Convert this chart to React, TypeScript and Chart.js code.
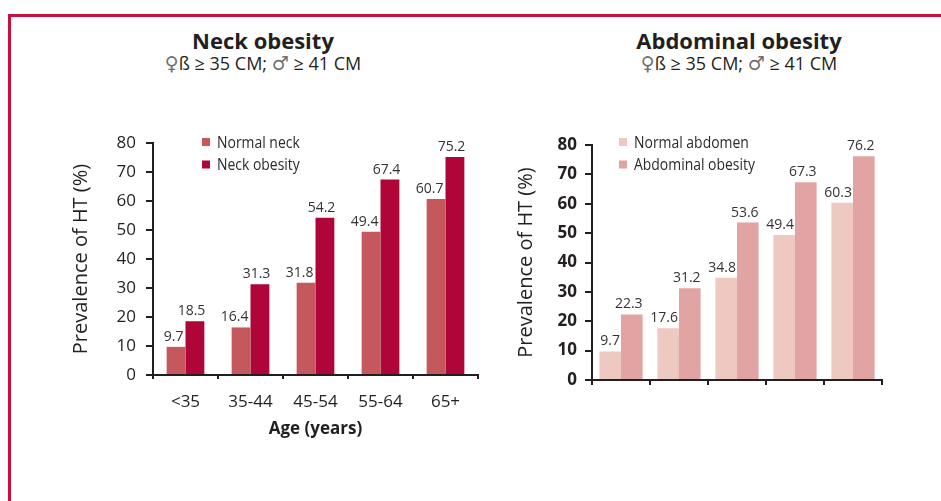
import React, { useEffect, useRef } from "react";
import { Chart, registerables } from "chart.js";

Chart.register(...registerables);

const ageGroups = ["<35", "35-44", "45-54", "55-64", "65+"];
const neckNormal = [9.7, 16.4, 31.8, 49.4, 60.7];
const neckObese = [18.5, 31.3, 54.2, 67.4, 75.2];
const abdNormal = [9.7, 17.6, 34.8, 49.4, 60.3];
const abdObese = [22.3, 31.2, 53.6, 67.3, 76.2];

const FONT = "'Open Sans', 'Noto Sans', sans-serif";
const DARK = "#231F20";

const labelsPlugin = {
  id: "valueLabels",
  afterDatasetsDraw(chart: any) {
    const ctx = chart.ctx;
    const shifts = chart.options.plugins.insideLegend.labelShift;
    ctx.save();
    ctx.font = `14px ${FONT}`;
    ctx.fillStyle = "#333333";
    ctx.textAlign = "right";
    ctx.textBaseline = "bottom";
    chart.data.datasets.forEach((ds: any, i: number) => {
      const meta = chart.getDatasetMeta(i);
      meta.data.forEach((el: any, j: number) => {
        const right = el.x + el.width / 2 + shifts[i];
        ctx.fillText(ds.data[j].toFixed(1), right, el.y - 3);
      });
    });
    ctx.restore();
  },
};

const legendPlugin = {
  id: "insideLegend",
  afterDraw(chart: any) {
    const opts = chart.options.plugins.insideLegend;
    if (!opts) return;
    const ctx = chart.ctx;
    const area = chart.chartArea;
    ctx.save();
    chart.data.datasets.forEach((ds: any, i: number) => {
      const y = opts.y + i * opts.gap;
      const x = area.left + opts.dx;
      ctx.fillStyle = ds.backgroundColor;
      ctx.fillRect(x, y - 4, 8, 8);
      ctx.save();
      ctx.translate(x + 15, y);
      ctx.scale(0.82, 1);
      ctx.font = `17px ${FONT}`;
      ctx.fillStyle = "#2b2b2b";
      ctx.textAlign = "left";
      ctx.textBaseline = "middle";
      ctx.fillText(ds.label, 0, 1);
      ctx.restore();
    });
    ctx.restore();
  },
};

function makeConfig(p: {
  normal: number[];
  obese: number[];
  names: string[];
  colors: string[];
  pad: any;
  yWidth: number;
  xHeight: number;
  yTitlePad: number;
  yTickPad: number;
  boldTicks: boolean;
  showX: boolean;
  catPct: number;
  legendDx: number;
  xTickLen: number;
  labelShift: number[];
}) {
  return {
    type: "bar",
    data: {
      labels: ageGroups,
      datasets: [
        { label: p.names[0], data: p.normal, backgroundColor: p.colors[0] },
        { label: p.names[1], data: p.obese, backgroundColor: p.colors[1] },
      ],
    },
    plugins: [labelsPlugin, legendPlugin],
    options: {
      responsive: false,
      animation: false,
      layout: { padding: p.pad },
      datasets: { bar: { categoryPercentage: p.catPct, barPercentage: 1 } },
      plugins: {
        legend: { display: false },
        tooltip: { enabled: false },
        insideLegend: { dx: p.legendDx, y: 142, gap: 22.5, labelShift: p.labelShift },
      },
      scales: {
        x: {
          grid: {
            display: true,
            drawOnChartArea: false,
            drawTicks: true,
            tickLength: p.xTickLen,
            color: DARK,
            lineWidth: 2,
          },
          border: { display: true, color: DARK, width: 2 },
          ticks: {
            display: p.showX,
            font: { family: FONT, size: 17 },
            color: DARK,
            padding: 13,
            maxRotation: 0,
          },
          title: {
            display: p.showX,
            text: "Age (years)",
            font: { family: FONT, size: 17, weight: "bold" },
            color: DARK,
            padding: { top: 0, bottom: 2 },
          },
          afterFit: (s: any) => {
            s.height = p.xHeight;
          },
        },
        y: {
          min: 0,
          max: 80,
          grid: {
            display: true,
            drawOnChartArea: false,
            drawTicks: true,
            tickLength: 7,
            color: DARK,
            lineWidth: 2,
          },
          border: { display: true, color: DARK, width: 2 },
          ticks: {
            stepSize: 10,
            font: { family: FONT, size: 17, weight: p.boldTicks ? "bold" : "normal" },
            color: DARK,
            padding: p.yTickPad,
          },
          title: {
            display: true,
            text: "Prevalence of HT (%)",
            font: { family: FONT, size: 20 },
            color: DARK,
            padding: { top: p.yTitlePad, bottom: 0 },
          },
          afterFit: (s: any) => {
            s.width = p.yWidth;
          },
        },
      },
    },
  };
}

function BarCanvas(props: { config: any; left: number; width: number }) {
  const ref = useRef<HTMLCanvasElement | null>(null);
  useEffect(() => {
    if (!ref.current) return;
    const chart = new Chart(ref.current, props.config);
    return () => chart.destroy();
  }, []);
  return (
    <canvas
      ref={ref}
      width={props.width}
      height={501}
      style={{ position: "absolute", left: props.left, top: 0, width: props.width, height: 501 }}
    />
  );
}

const symStyle: React.CSSProperties = {
  color: "#6f6f6f",
  fontFamily: "'DejaVu Sans', sans-serif",
  fontSize: 19,
  fontWeight: 400,
};

function Heading(props: { cx: number; title: string }) {
  return (
    <>
      <div
        style={{
          position: "absolute",
          left: props.cx - 200,
          top: 26,
          width: 400,
          textAlign: "center",
          fontFamily: FONT,
          fontWeight: 700,
          fontSize: 22,
          lineHeight: "28px",
          color: DARK,
        }}
      >
        {props.title}
      </div>
      <div
        style={{
          position: "absolute",
          left: props.cx - 200,
          top: 52,
          width: 400,
          textAlign: "center",
          fontFamily: FONT,
          fontSize: 18,
          lineHeight: "22px",
          color: DARK,
          whiteSpace: "nowrap",
        }}
      >
        <span style={symStyle}>♀</span>ß ≥ 35 CM; <span style={symStyle}>♂</span> ≥ 41 CM
      </div>
    </>
  );
}

export default function App() {
  const leftCfg = makeConfig({
    normal: neckNormal,
    obese: neckObese,
    names: ["Normal neck", "Neck obesity"],
    colors: ["#C4585D", "#B00538"],
    pad: { left: 60, top: 143, right: 2, bottom: 60 },
    yWidth: 93,
    xHeight: 66,
    yTitlePad: 9,
    yTickPad: 10,
    boldTicks: false,
    showX: true,
    catPct: 0.58,
    legendDx: 49,
    xTickLen: 4,
    labelShift: [-2, 1],
  });
  const rightCfg = makeConfig({
    normal: abdNormal,
    obese: abdObese,
    names: ["Normal abdomen", "Abdominal obesity"],
    colors: ["#EEC9C1", "#E2A4A2"],
    pad: { left: 20, top: 145, right: 59, bottom: 101 },
    yWidth: 92,
    xHeight: 20,
    yTitlePad: 14,
    yTickPad: 8,
    boldTicks: true,
    showX: false,
    catPct: 0.745,
    legendDx: 27,
    xTickLen: 5,
    labelShift: [-1, 0],
  });
  return (
    <div
      style={{
        position: "fixed",
        left: 0,
        top: 0,
        width: 941,
        height: 501,
        overflow: "hidden",
        background: "#fff",
      }}
    >
      <div
        style={{
          position: "absolute",
          left: 8,
          top: 14,
          width: 1200,
          height: 800,
          borderTop: "3px solid #C8103E",
          borderLeft: "3px solid #C8103E",
        }}
      />
      <Heading cx={263} title="Neck obesity" />
      <Heading cx={739} title="Abdominal obesity" />
      <BarCanvas config={leftCfg} left={0} width={480} />
      <BarCanvas config={rightCfg} left={480} width={461} />
    </div>
  );
}
